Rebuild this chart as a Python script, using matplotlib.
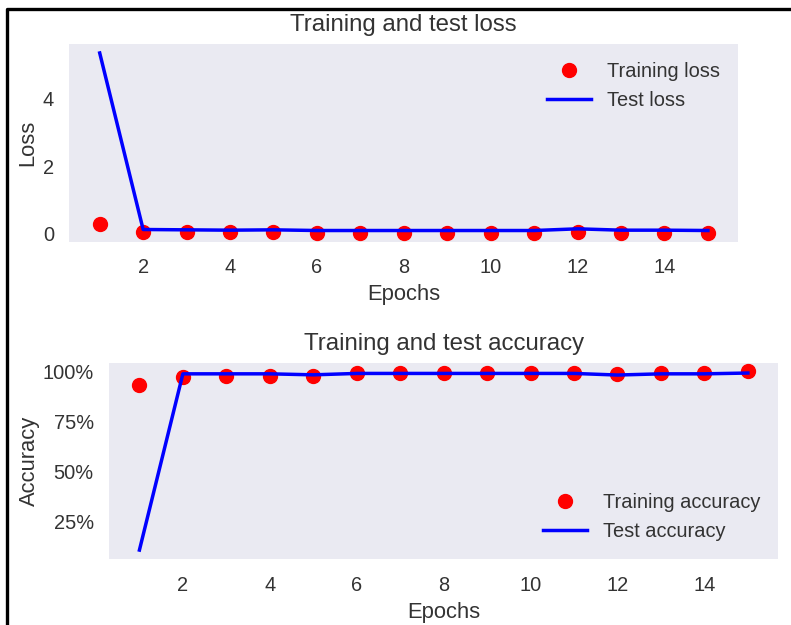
import matplotlib
matplotlib.use("Agg")
import matplotlib.pyplot as plt
from matplotlib.lines import Line2D
from matplotlib.ticker import PercentFormatter

epochs = list(range(1, 16))
train_loss = [0.28, 0.07, 0.06, 0.05, 0.05, 0.04, 0.04, 0.04, 0.04, 0.04, 0.04, 0.05, 0.04, 0.04, 0.035]
test_loss = [5.35, 0.13, 0.12, 0.11, 0.12, 0.10, 0.10, 0.10, 0.10, 0.10, 0.10, 0.15, 0.11, 0.11, 0.10]
train_acc = [0.93, 0.972, 0.978, 0.978, 0.978, 0.99, 0.99, 0.99, 0.99, 0.99, 0.99, 0.985, 0.99, 0.99, 1.0]
test_acc = [0.108, 0.988, 0.988, 0.988, 0.983, 0.99, 0.99, 0.99, 0.99, 0.99, 0.99, 0.982, 0.988, 0.988, 0.992]

TXT = '0.2'
plt.rcParams.update({
    'font.family': ['Liberation Sans', 'DejaVu Sans'],
    'text.color': TXT,
    'axes.labelcolor': TXT,
    'xtick.color': TXT,
    'ytick.color': TXT,
    'axes.facecolor': '#EAEAF2',
    'axes.edgecolor': 'white',
    'xtick.major.size': 0,
    'ytick.major.size': 0,
})

W, H = 791, 625
fig = plt.figure(figsize=(W / 100, H / 100), dpi=100)

ax1 = fig.add_axes([69.3 / W, 1 - 241.7 / H, (738.3 - 69.3) / W, (241.7 - 44) / H])
ax2 = fig.add_axes([109 / W, 1 - 559 / H, (778.3 - 109) / W, (559 - 362.5) / H])

for ax in (ax1, ax2):
    for s in ax.spines.values():
        s.set_visible(False)
    ax.tick_params(axis='x', labelsize=14.4, pad=12)
    ax.tick_params(axis='y', labelsize=14.4, pad=11)

ax1.plot(epochs, train_loss, 'ro', markersize=10, label='Training loss')
ax1.plot(epochs, test_loss, 'b', linewidth=2.5, label='Test loss')
ax1.set_title('Training and test loss', fontsize=17.3, pad=9)
ax1.set_xlabel('Epochs', fontsize=15.8, labelpad=5)
ax1.set_ylabel('Loss', fontsize=15.8, labelpad=3)
ax1.set_yticks([0, 2, 4])
ax1.set_xticks([2, 4, 6, 8, 10, 12, 14])
ax1.legend(loc='upper right', frameon=False, fontsize=14.4, handlelength=2.2)

ax2.plot(epochs, train_acc, 'ro', markersize=10, label='Training accuracy')
ax2.plot(epochs, test_acc, 'b', linewidth=2.5, label='Test accuracy')
ax2.set_title('Training and test accuracy', fontsize=17.3, pad=9)
ax2.set_xlabel('Epochs', fontsize=15.8, labelpad=5)
ax2.set_ylabel('Accuracy', fontsize=15.8, labelpad=2)
ax2.set_yticks([0.25, 0.5, 0.75, 1.0])
ax2.yaxis.set_major_formatter(PercentFormatter(1.0, decimals=0))
ax2.set_xticks([2, 4, 6, 8, 10, 12, 14])
ax2.legend(loc='lower right', frameon=False, fontsize=14.4, handlelength=2.2)

fig.add_artist(Line2D([7 / W, 7 / W, 1.0], [0.0, 1 - 9 / H, 1 - 9 / H],
                      transform=fig.transFigure, color='black', linewidth=2.4))

fig.savefig('out.png', dpi=100)
